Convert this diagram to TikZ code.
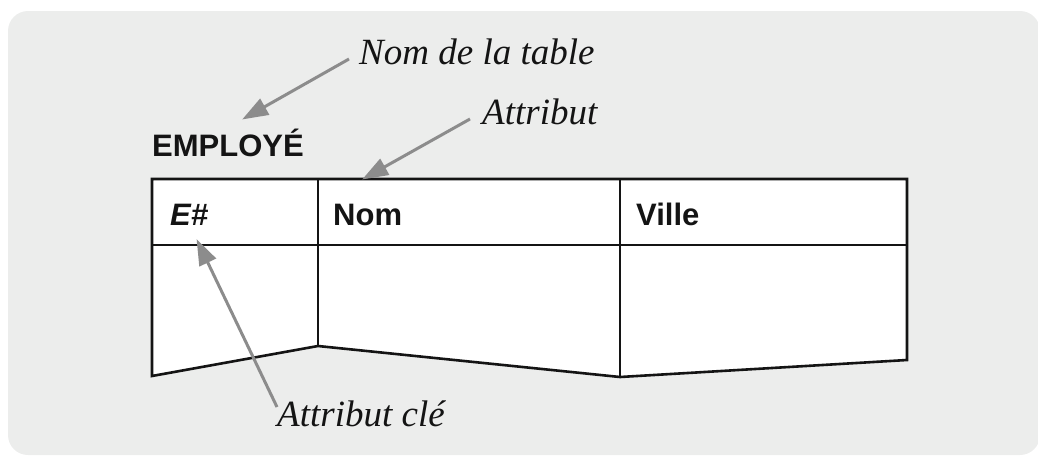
\documentclass[tikz,border=0pt]{standalone}
\usepackage{fontspec}
\setmainfont{Liberation Serif}
\setsansfont{Liberation Sans}
\definecolor{panelgray}{RGB}{236, 237, 236}
\definecolor{arrowgray}{RGB}{140, 140, 140}
\definecolor{inkblack}{RGB}{20, 20, 20}
\usetikzlibrary{arrows.meta, positioning, calc}

\begin{document}
\begin{tikzpicture}[x=1pt, y=-1pt,
    tableline/.style={draw=inkblack, line width=2.6pt},
    colhead/.style={anchor=base west, inner sep=0pt, text=inkblack, font=\sffamily\bfseries\fontsize{31}{36}\selectfont},
    callout/.style={anchor=base west, inner sep=0pt, text=inkblack, font=\itshape\fontsize{37}{42}\selectfont},
    pointer/.style={-{Triangle[length=26pt, width=18pt]}, draw=arrowgray, line width=3pt, shorten >=-1pt}]
  \useasboundingbox (0,0) rectangle (1038,456);

  % Panel
  \fill[panelgray, rounded corners=20pt] (8,11) rectangle (1040,455);

  % Table outline
  \filldraw[fill=white, tableline] (152,376) -- (152,179) -- (907,179) -- (907,360) -- (620,377) -- (318,346) -- cycle;
  \draw[tableline] (152,245) -- (907,245);
  \draw[tableline] (318,179) -- (318,346);
  \draw[tableline] (620,179) -- (620,377);

  % Table name and column headers
  \node[anchor=base west, inner sep=0pt, text=inkblack, font=\sffamily\bfseries\fontsize{31}{36}\selectfont] (tabname) at (152,156) {EMPLOYÉ};
  \node[colhead] (keycol) at (170,225) {\bfseries\itshape E\#};
  \node[colhead] (nomcol) at (333,225) {Nom};
  \node[colhead] (villecol) at (636,225) {Ville};

  % Callouts
  \node[callout] (tablelbl) at (359,64) {Nom de la table};
  \node[callout] (attrlbl) at (482,124) {Attribut};
  \node[callout] (keylbl) at (277,426) {Attribut clé};

  % Arrow tips
  \coordinate (tablehit) at (243,119);
  \coordinate (attrhit) at (363,179);
  \coordinate (keyhit) at (197,240);

  % Pointers
  \draw[pointer] ([xshift=-10pt, yshift=5pt]tablelbl.base west) -- (tablehit);
  \draw[pointer] ([xshift=-12pt, yshift=5pt]attrlbl.base west) -- (attrhit);
  \draw[pointer] ([yshift=19pt]keylbl.base west) -- (keyhit);
\end{tikzpicture}
\end{document}
